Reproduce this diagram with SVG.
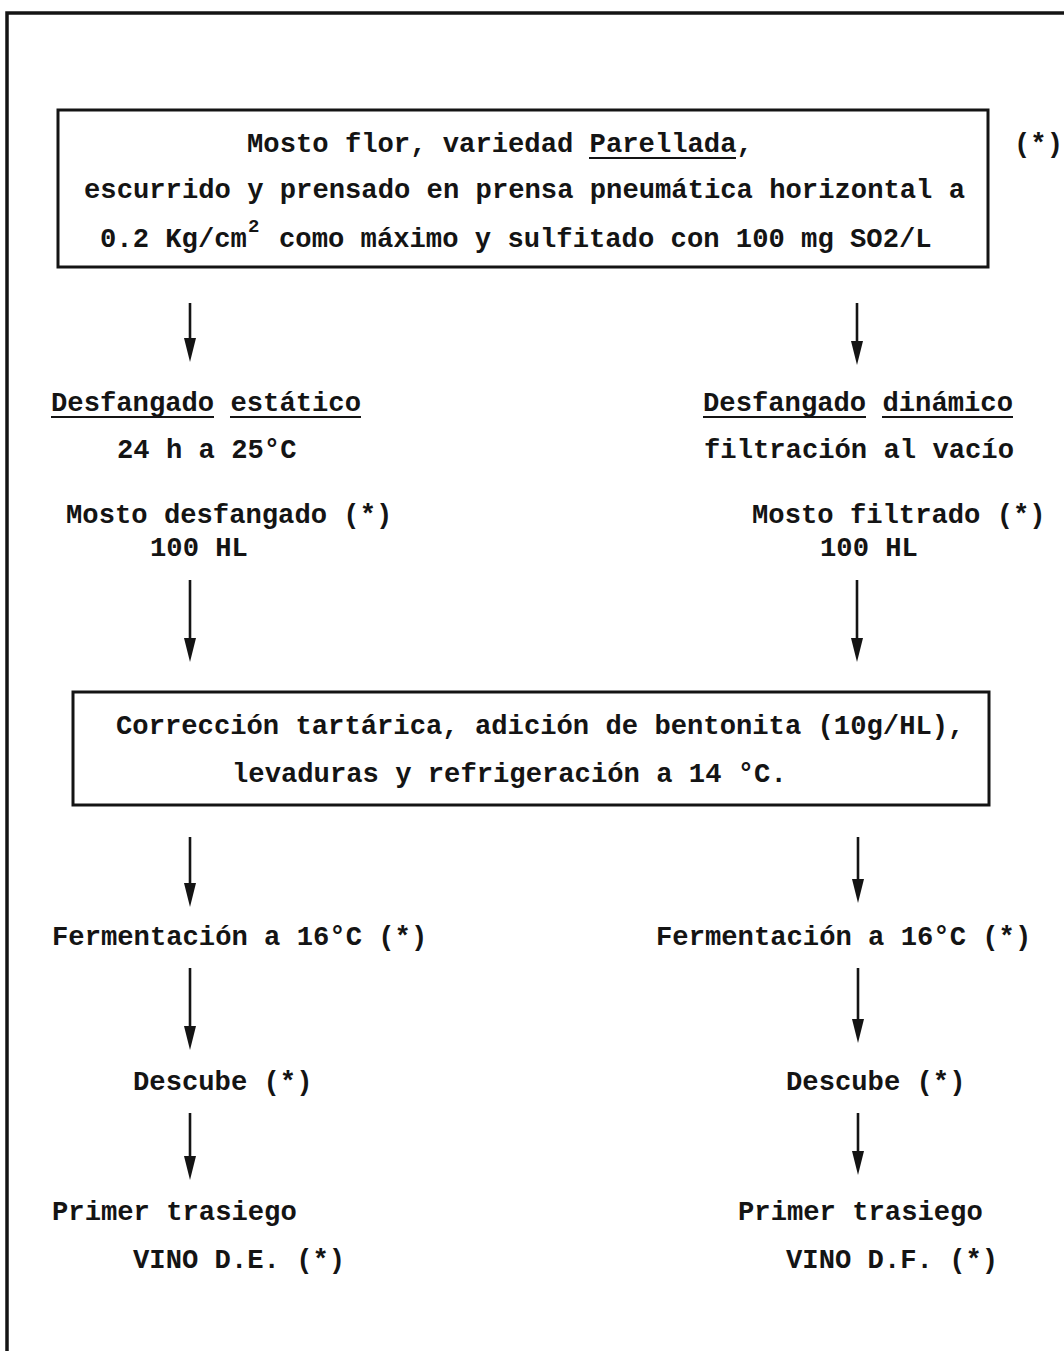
<svg xmlns="http://www.w3.org/2000/svg" width="1064" height="1351" viewBox="0 0 1064 1351">
  <style>
    .t { font-family: "Liberation Mono", "DejaVu Sans Mono", monospace; font-weight: bold; font-size: 27.2px; fill: #141414; }
    .sup { font-family: "Liberation Mono", "DejaVu Sans Mono", monospace; font-weight: bold; font-size: 19px; fill: #141414; }
    .box { fill: none; stroke: #141414; stroke-width: 3; }
    .frame { fill: none; stroke: #141414; stroke-width: 3.5; }
    .ul { stroke: #141414; stroke-width: 2; }
    .arrow { stroke: #141414; stroke-width: 2.6; marker-end: url(#head); }
  </style>
  <defs>
    <marker id="head" markerUnits="userSpaceOnUse" markerWidth="24" markerHeight="12" refX="12" refY="6" orient="auto" viewBox="0 0 24 12">
      <path d="M0,0 L24,6 L0,12 Z" fill="#141414"/>
    </marker>
  </defs>
  <rect width="1064" height="1351" fill="#ffffff"/>

  <!-- page frame: top rule and left rule -->
  <g id="frame">
    <path class="frame" d="M7,1351 L7,13 L1064,13"/>
  </g>

  <!-- starting must -->
  <g id="mosto-flor">
    <rect class="box" x="58" y="110" width="930" height="157"/>
    <text class="t" x="247" y="152">Mosto flor, variedad Parellada,</text>
    <line class="ul" x1="589" y1="158" x2="736" y2="158"/>
    <text class="t" x="84" y="198">escurrido y prensado en prensa pneumática horizontal a</text>
    <text class="t" x="100" y="247">0.2 Kg/cm</text>
    <text class="sup" x="248" y="232">2</text>
    <text class="t" x="279" y="247">como máximo y sulfitado con 100 mg SO2/L</text>
    <text class="t" x="1014" y="152">(*)</text>
  </g>

  <!-- static settling branch -->
  <g id="desfangado-estatico">
    <text class="t" x="51" y="411">Desfangado estático</text>
    <line class="ul" x1="51" y1="417" x2="214" y2="417"/>
    <line class="ul" x1="230" y1="417" x2="361" y2="417"/>
    <text class="t" x="117" y="458">24 h a 25°C</text>
  </g>
  <g id="mosto-desfangado">
    <text class="t" x="66" y="523">Mosto desfangado (*)</text>
    <text class="t" x="150" y="556">100 HL</text>
  </g>

  <!-- dynamic settling branch -->
  <g id="desfangado-dinamico">
    <text class="t" x="703" y="411">Desfangado dinámico</text>
    <line class="ul" x1="703" y1="417" x2="866" y2="417"/>
    <line class="ul" x1="882" y1="417" x2="1013" y2="417"/>
    <text class="t" x="704" y="458">filtración al vacío</text>
  </g>
  <g id="mosto-filtrado">
    <text class="t" x="752" y="523">Mosto filtrado (*)</text>
    <text class="t" x="820" y="556">100 HL</text>
  </g>

  <!-- common treatment -->
  <g id="correccion">
    <rect class="box" x="73" y="692" width="916" height="113"/>
    <text class="t" x="116" y="734">Corrección tartárica, adición de bentonita (10g/HL),</text>
    <text class="t" x="232" y="782">levaduras y refrigeración a 14 °C.</text>
  </g>

  <!-- left column downstream -->
  <g id="fermentacion-de">
    <text class="t" x="52" y="945">Fermentación a 16°C (*)</text>
  </g>
  <g id="descube-de">
    <text class="t" x="133" y="1090">Descube (*)</text>
  </g>
  <g id="trasiego-de">
    <text class="t" x="52" y="1220">Primer trasiego</text>
    <text class="t" x="133" y="1268">VINO D.E. (*)</text>
  </g>

  <!-- right column downstream -->
  <g id="fermentacion-df">
    <text class="t" x="656" y="945">Fermentación a 16°C (*)</text>
  </g>
  <g id="descube-df">
    <text class="t" x="786" y="1090">Descube (*)</text>
  </g>
  <g id="trasiego-df">
    <text class="t" x="738" y="1220">Primer trasiego</text>
    <text class="t" x="786" y="1268">VINO D.F. (*)</text>
  </g>

  <!-- connectors: each line stops 12px short of the tip, the marker covers the rest -->
  <g id="connectors">
    <line class="arrow" x1="190" y1="303" x2="190" y2="350"/>
    <line class="arrow" x1="857" y1="303" x2="857" y2="353"/>
    <line class="arrow" x1="190" y1="580" x2="190" y2="650"/>
    <line class="arrow" x1="857" y1="580" x2="857" y2="650"/>
    <line class="arrow" x1="190" y1="837" x2="190" y2="895"/>
    <line class="arrow" x1="858" y1="837" x2="858" y2="891"/>
    <line class="arrow" x1="190" y1="968" x2="190" y2="1038"/>
    <line class="arrow" x1="858" y1="968" x2="858" y2="1031"/>
    <line class="arrow" x1="190" y1="1113" x2="190" y2="1168"/>
    <line class="arrow" x1="858" y1="1113" x2="858" y2="1163"/>
  </g>
</svg>
